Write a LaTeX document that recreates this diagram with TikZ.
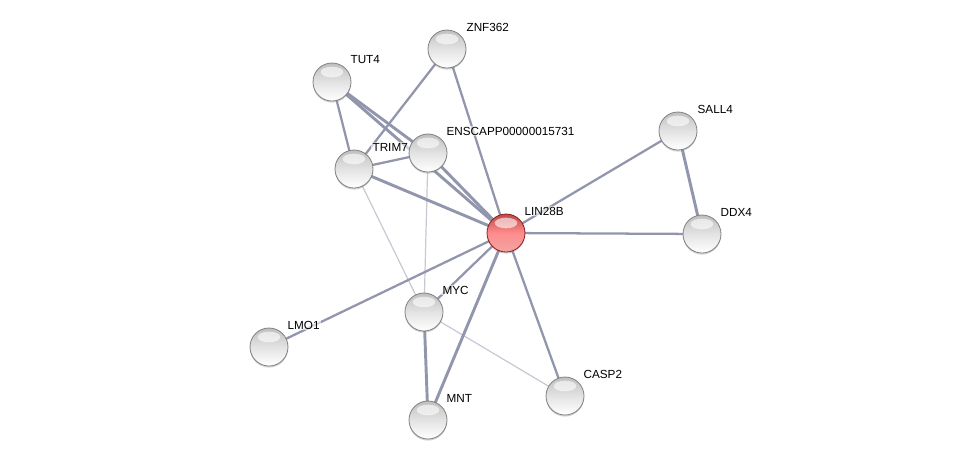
\documentclass[tikz,border=0pt]{standalone}
\usepackage{fontspec}
\setmainfont{Liberation Sans}
\usetikzlibrary{shadows,backgrounds}
\definecolor{edgec}{HTML}{9296AC}
\definecolor{lightedge}{HTML}{C6C8D4}
\definecolor{rimgray}{HTML}{808080}
\definecolor{redtop}{HTML}{C04848}
\definecolor{redbot}{HTML}{F2A4A4}
\definecolor{redrim}{HTML}{8A1E1E}
\tikzset{
  prot/.style={circle, minimum size=28.5pt, inner sep=0pt, draw=rimgray, line width=0.6pt,
    top color=gray!50, bottom color=white, middle color=gray!22,
    drop shadow={opacity=0.35, shadow xshift=0pt, shadow yshift=-1.2pt}},
  hub/.style={prot, draw=redrim, top color=redtop, bottom color=redbot, middle color=red!45!white},
  lbl/.style={anchor=west, font=\fontsize{8.8pt}{10pt}\selectfont, inner sep=1pt, fill=white, fill opacity=0.6, text opacity=1},
  med/.style={draw=edgec, line width=1.7pt},
  thick/.style={draw=edgec, line width=2.2pt},
  thin/.style={draw=lightedge, line width=0.9pt},
}
\begin{document}
\begin{tikzpicture}[x=0.75pt, y=-0.75pt]
\useasboundingbox (0,0) rectangle (976,465);
% nodes
\node[prot] (ZNF) at (447,49) {};
\node[prot] (TUT) at (332,82) {};
\node[prot] (ENS) at (428,153) {};
\node[prot] (TRI) at (354,169) {};
\node[prot] (SAL) at (678,131) {};
\node[hub]  (LIN) at (506,233) {};
\node[prot] (DDX) at (702,234) {};
\node[prot] (MYC) at (424,312) {};
\node[prot] (LMO) at (269,347) {};
\node[prot] (CAS) at (565,396) {};
\node[prot] (MNT) at (428,420) {};
% highlights
\foreach \n in {ZNF,TUT,ENS,TRI,SAL,LIN,DDX,MYC,LMO,CAS,MNT}{
  \fill[white, opacity=0.6] ([yshift=7.5pt]\n.center) ellipse (8.5pt and 4pt);
}
% labels
\node[lbl] (lZNF) at (465,27) {ZNF362};
\node[lbl] (lTUT) at (349,60) {TUT4};
\node[lbl] (lENS) at (445,131) {ENSCAPP00000015731};
\node[lbl] (lTRI) at (371,147) {TRIM7};
\node[lbl] (lSAL) at (696,109) {SALL4};
\node[lbl] (lLIN) at (523,211) {LIN28B};
\node[lbl] (lDDX) at (719,212) {DDX4};
\node[lbl] (lMYC) at (441,290) {MYC};
\node[lbl] (lLMO) at (286,325) {LMO1};
\node[lbl] (lCAS) at (582,374) {CASP2};
\node[lbl] (lMNT) at (445,398) {MNT};
% edges
\begin{pgfonlayer}{background}
\draw[thin] (TRI.center) -- (MYC.center);
\draw[thin] (ENS.center) -- (MYC.center);
\draw[thin] (MYC.center) -- (CAS.center);
\draw[med] (TUT.center) -- (TRI.center);
\draw[thick] (TUT.center) -- (ENS.center);
\draw[thick] (TUT.center) -- (LIN.center);
\draw[med] (ZNF.center) -- (TRI.center);
\draw[med] (ZNF.center) -- (LIN.center);
\draw[med] (TRI.center) -- (ENS.center);
\draw[thick] (TRI.center) -- (LIN.center);
\draw[thick] (ENS.center) -- (LIN.center);
\draw[med] (SAL.center) -- (LIN.center);
\draw[thick] (SAL.center) -- (DDX.center);
\draw[med] (LIN.center) -- (DDX.center);
\draw[med] (LIN.center) -- (MYC.center);
\draw[med] (LIN.center) -- (LMO.center);
\draw[med] (LIN.center) -- (CAS.center);
\draw[thick] (LIN.center) -- (MNT.center);
\draw[thick] (MYC.center) -- (MNT.center);
\end{pgfonlayer}
\end{tikzpicture}
\end{document}
